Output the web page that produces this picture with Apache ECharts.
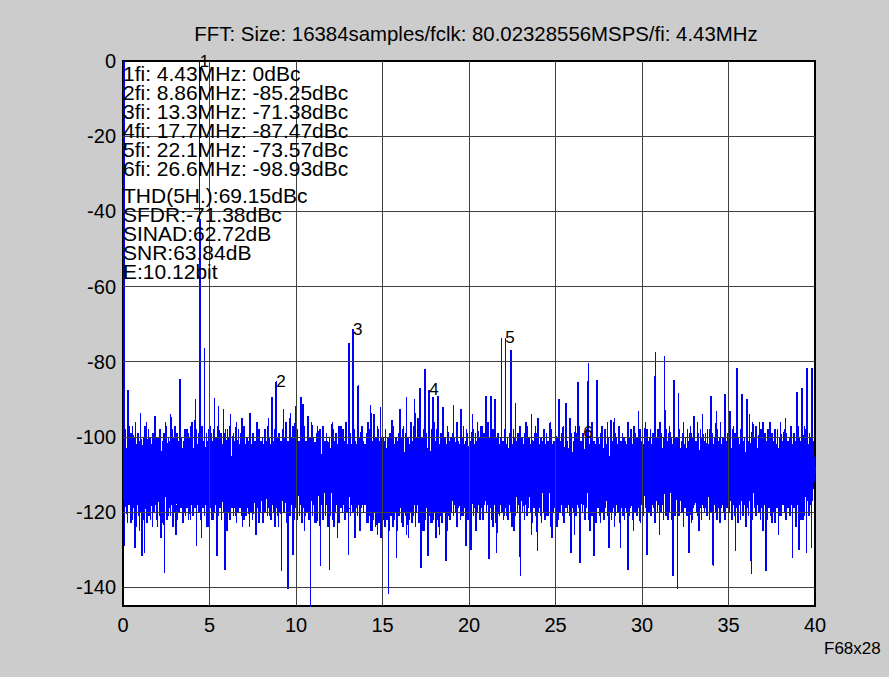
<!DOCTYPE html>
<html><head><meta charset="utf-8">
<script src="https://cdn.jsdelivr.net/npm/echarts@6/dist/echarts.min.js"></script>
<style>html,body{margin:0;padding:0;background:#cccccc}#c{width:889px;height:677px}#c svg path{shape-rendering:crispEdges}</style>
</head><body><div id="c"></div>
<script>
// ---- data ----
// noise floor samples, uniformly spaced over 0..40 MHz
const noiseDb = [
-101,-117,-104,-121,-98,-115,-103,-119,-106,-123,-100,-116,-102,-118,-97,-114,-105,-120,-99,-117,-103,-122,-101,-115,-104,-119,-100,-116,-96,-124,-102,-118,-105,-115,-99,-121,-103,-117,-101,-120,
-99,-120,-103,-115,-105,-118,-100,-122,-102,-116,-97,-119,-104,-114,-101,-123,-106,-117,-98,-121,-103,-116,-100,-119,-105,-115,-102,-124,-99,-117,-104,-120,-101,-116,-96,-118,-103,-122,-100,-115,
-104,-116,-100,-121,-102,-117,-98,-119,-105,-115,-101,-123,-103,-118,-99,-120,-106,-116,-102,-114,-97,-122,-104,-117,-100,-119,-103,-115,-101,-121,-105,-118,-98,-116,-102,-124,-100,-117,-104,-120,
-102,-118,-105,-115,-99,-122,-103,-116,-101,-120,-104,-117,-97,-119,-100,-115,-103,-123,-106,-118,-101,-116,-98,-121,-104,-114,-102,-119,-105,-117,-99,-122,-103,-116,-100,-120,-97,-118,-104,-115,
-100,-121,-103,-117,-106,-119,-101,-115,-98,-123,-104,-118,-102,-116,-99,-120,-105,-114,-100,-122,-103,-117,-97,-119,-101,-115,-104,-121,-102,-118,-106,-116,-99,-124,-103,-117,-101,-119,-98,-116,
-103,-119,-99,-116,-104,-122,-101,-117,-105,-115,-98,-120,-102,-118,-100,-124,-104,-116,-97,-121,-103,-115,-106,-119,-101,-117,-99,-122,-102,-116,-104,-120,-100,-118,-103,-115,-98,-123,-105,-117,
-101,-115,-104,-120,-100,-117,-97,-122,-103,-116,-105,-119,-102,-114,-99,-121,-104,-118,-101,-116,-106,-123,-100,-117,-103,-120,-98,-115,-102,-119,-104,-117,-99,-121,-101,-116,-105,-118,-102,-122,
-98,-118,-102,-121,-105,-116,-100,-119,-103,-115,-101,-124,-104,-117,-96,-120,-102,-116,-105,-122,-99,-118,-103,-115,-101,-121,-104,-117,-100,-119,-106,-116,-102,-123,-98,-117,-103,-120,-101,-115,
-104,-117,-100,-123,-102,-116,-99,-120,-105,-118,-101,-115,-103,-121,-97,-117,-104,-119,-100,-116,-102,-122,-105,-118,-99,-115,-103,-120,-101,-117,-98,-124,-104,-116,-102,-119,-100,-121,-103,-118,
-99,-116,-103,-119,-101,-122,-104,-117,-98,-115,-102,-120,-105,-118,-100,-116,-96,-123,-103,-117,-101,-119,-104,-115,-99,-121,-102,-118,-105,-116,-100,-120,-97,-117,-103,-122,-101,-116,-104,-119,
-102,-120,-98,-117,-104,-115,-101,-121,-103,-118,-99,-116,-105,-123,-100,-119,-102,-115,-97,-118,-104,-121,-101,-116,-103,-120,-106,-117,-99,-122,-102,-115,-100,-119,-104,-117,-98,-121,-103,-116,
-100,-118,-105,-116,-102,-120,-99,-123,-103,-117,-101,-115,-104,-119,-98,-121,-102,-116,-105,-118,-100,-122,-97,-117,-103,-115,-101,-120,-104,-118,-99,-116,-102,-124,-106,-117,-100,-119,-103,-121,
-103,-115,-100,-119,-98,-122,-104,-117,-101,-120,-105,-116,-99,-118,-102,-121,-104,-115,-97,-123,-103,-117,-100,-119,-105,-116,-102,-120,-98,-118,-104,-115,-101,-122,-103,-117,-99,-120,-102,-116,
-101,-119,-104,-116,-99,-121,-102,-118,-106,-115,-100,-120,-103,-117,-98,-124,-101,-116,-104,-119,-102,-121,-99,-115,-105,-118,-100,-122,-103,-116,-97,-119,-104,-117,-101,-120,-102,-115,-105,-118,
-102,-117,-99,-120,-103,-123,-100,-118,-104,-121,-98,-119,-102,-125,-105,-117,-101,-122,-103,-118,-99,-120,-104,-124,-100,-117,-102,-121,-97,-119,-105,-123,-101,-118,-103,-120,-100,-126,-104,-117,
-100,-121,-104,-118,-101,-124,-98,-119,-103,-122,-105,-117,-100,-120,-102,-125,-99,-118,-104,-121,-101,-119,-103,-123,-97,-117,-102,-122,-105,-120,-100,-118,-104,-125,-101,-119,-99,-121,-103,-118,
-103,-119,-100,-122,-105,-118,-98,-124,-102,-120,-104,-117,-99,-121,-101,-126,-103,-119,-100,-118,-105,-122,-102,-120,-98,-117,-104,-123,-101,-119,-103,-121,-97,-118,-102,-124,-100,-120,-104,-117,
-101,-118,-104,-123,-99,-120,-102,-117,-105,-121,-100,-119,-103,-125,-98,-118,-104,-122,-101,-120,-99,-117,-103,-124,-105,-119,-100,-121,-102,-118,-104,-123,-98,-120,-101,-117,-103,-122,-100,-119,
-104,-120,-101,-117,-98,-122,-103,-119,-100,-124,-105,-118,-102,-121,-99,-117,-104,-123,-101,-119,-97,-120,-103,-118,-100,-122,-105,-117,-102,-125,-99,-119,-104,-121,-101,-118,-103,-116,-100,-120,
-102,-117,-99,-121,-104,-118,-100,-116,-103,-120,-98,-123,-105,-117,-101,-119,-102,-115,-104,-122,-99,-118,-103,-116,-100,-121,-97,-117,-102,-119,-105,-115,-101,-120,-104,-118,-99,-122,-103,-116,
-100,-116,-103,-120,-101,-118,-105,-115,-98,-121,-102,-117,-104,-119,-99,-123,-103,-116,-101,-120,-105,-118,-100,-115,-102,-122,-97,-117,-104,-119,-101,-116,-103,-121,-99,-118,-105,-115,-102,-120,
-104,-118,-101,-115,-99,-121,-103,-117,-100,-119,-105,-122,-102,-116,-98,-120,-104,-118,-101,-115,-103,-123,-100,-117,-106,-119,-99,-116,-102,-121,-104,-118,-100,-115,-97,-120,-103,-117,-101,-122,
-101,-121,-98,-117,-104,-119,-102,-115,-100,-122,-103,-118,-105,-116,-99,-120,-101,-117,-104,-124,-102,-115,-98,-119,-103,-121,-100,-117,-105,-116,-101,-120,-99,-118,-104,-115,-102,-123,-100,-117,
-103,-117,-100,-120,-102,-116,-105,-122,-99,-118,-101,-115,-104,-121,-97,-117,-103,-119,-100,-116,-102,-120,-105,-118,-98,-123,-104,-115,-101,-119,-103,-117,-99,-121,-102,-116,-100,-118,-104,-120,
-99,-119,-102,-116,-105,-121,-100,-117,-103,-115,-101,-120,-98,-118,-104,-122,-102,-116,-99,-119,-105,-117,-101,-121,-103,-115,-100,-118,-104,-124,-98,-116,-102,-120,-105,-117,-101,-119,-103,-115,
-102,-115,-104,-119,-100,-122,-103,-117,-98,-120,-101,-116,-105,-118,-99,-121,-103,-115,-100,-123,-104,-117,-102,-119,-97,-116,-101,-120,-103,-118,-105,-115,-100,-121,-102,-117,-99,-119,-104,-116,
-104,-120,-101,-117,-103,-115,-99,-121,-102,-118,-105,-116,-100,-119,-97,-122,-103,-117,-101,-115,-104,-120,-99,-118,-102,-116,-105,-121,-100,-117,-103,-119,-98,-115,-101,-122,-104,-118,-102,-116,
-100,-117,-103,-121,-99,-116,-104,-118,-101,-120,-102,-115,-105,-123,-98,-117,-103,-119,-100,-116,-102,-121,-104,-118,-99,-115,-101,-120,-105,-117,-103,-122,-100,-116,-98,-119,-102,-117,-104,-121,
-103,-118,-100,-115,-105,-120,-102,-117,-98,-122,-104,-116,-101,-119,-103,-115,-99,-121,-105,-118,-100,-116,-102,-120,-104,-117,-97,-123,-103,-115,-101,-119,-105,-117,-99,-121,-102,-116,-100,-118,
-101,-116,-104,-120,-102,-118,-99,-115,-103,-121,-100,-117,-105,-119,-98,-116,-102,-122,-104,-118,-101,-115,-103,-120,-99,-117,-105,-121,-100,-116,-102,-119,-104,-115,-98,-122,-103,-118,-101,-117,
-99,-121,-102,-117,-104,-115,-100,-119,-103,-122,-98,-116,-105,-118,-101,-120,-103,-117,-100,-115,-104,-121,-102,-118,-99,-116,-105,-119,-101,-123,-103,-117,-100,-115,-104,-120,-98,-118,-102,-116,
-104,-117,-101,-120,-99,-118,-103,-116,-105,-122,-100,-115,-102,-119,-98,-121,-104,-117,-101,-116,-103,-120,-99,-118,-105,-115,-100,-122,-102,-117,-104,-119,-97,-116,-103,-121,-101,-118,-100,-115,
-102,-119,-100,-116,-104,-121,-98,-117,-103,-115,-101,-120,-105,-118,-99,-122,-102,-116,-104,-119,-100,-117,-103,-121,-98,-115,-101,-118,-105,-120,-102,-116,-99,-123,-104,-117,-100,-119,-103,-116,
-100,-118,-103,-115,-101,-120,-105,-117,-99,-121,-102,-116,-104,-119,-98,-117,-103,-122,-100,-115,-105,-118,-101,-120,-103,-116,-99,-119,-104,-121,-100,-117,-102,-115,-105,-122,-98,-118,-103,-120,
-103,-116,-99,-121,-102,-118,-104,-115,-100,-120,-105,-117,-98,-122,-103,-116,-101,-119,-104,-117,-99,-121,-102,-115,-105,-118,-100,-120,-103,-116,-97,-122,-104,-117,-101,-119,-102,-115,-99,-121,
-101,-120,-104,-117,-100,-115,-103,-122,-98,-118,-102,-116,-105,-121,-99,-117,-104,-119,-101,-115,-103,-123,-100,-118,-102,-116,-104,-120,-98,-117,-105,-115,-101,-121,-103,-118,-100,-116,-104,-119,
-104,-115,-100,-119,-103,-121,-101,-117,-99,-116,-105,-120,-102,-118,-98,-122,-103,-115,-100,-119,-104,-117,-101,-121,-99,-116,-103,-118,-105,-120,-100,-115,-102,-122,-98,-117,-104,-119,-101,-116,
-102,-118,-105,-116,-99,-120,-103,-117,-101,-122,-98,-115,-104,-119,-100,-117,-102,-121,-105,-116,-99,-118,-103,-120,-101,-115,-104,-123,-100,-117,-102,-119,-98,-116,-103,-121,-105,-118,-100,-115,
-100,-121,-103,-116,-101,-118,-104,-115,-98,-120,-102,-117,-99,-122,-105,-116,-101,-119,-103,-115,-100,-121,-104,-118,-97,-116,-102,-120,-105,-117,-99,-119,-103,-115,-101,-122,-104,-117,-100,-118,
-103,-117,-100,-120,-104,-116,-101,-122,-99,-118,-102,-115,-105,-119,-100,-121,-103,-116,-98,-120,-104,-117,-101,-115,-102,-121,-99,-118,-105,-116,-100,-119,-103,-117,-101,-114,-104,-112,-106,-110
];
// upward spurs (MHz, dB)
const peakFreq = [0.05, 0.29, 1.0, 1.85, 2.76, 3.31, 4.18, 4.72, 5.3, 5.53, 5.82, 6.2, 6.87, 7.35, 8.61, 9.29, 9.67, 9.96, 10.29, 10.4, 10.7,
  13.06, 13.6, 14.32, 14.5, 14.88, 16.0, 16.4, 16.86, 17.18, 17.45, 17.93, 18.2, 18.5, 19.1, 19.55, 20.2, 20.98, 21.27, 21.5, 21.88, 22.43, 22.7,
  23.6, 24.0, 24.7, 25.2, 25.6, 26.3, 26.9, 27.4, 28.2, 28.4, 29.8, 30.77, 31.3, 31.86, 32.1, 33.0, 33.5, 34.0, 34.3, 34.8, 35.1, 35.5, 35.77, 36.06, 36.2,
  36.8, 37.4, 38.3, 38.96, 39.25, 39.54, 39.83];
const peakDb = [0, -87.5, -93.7, -94.5, -94, -84.6, -90, -76.4, -89.7, -91.7, -92.6, -94, -94.9, -93.7, -89.3, -92.6, -93.7, -91.7, -89.5, -91.2, -94.4,
  -75.1, -86.3, -91.5, -94, -92, -92.6, -89.3, -90, -87.1, -82.0, -89.5, -89, -92, -91.5, -92.6, -94, -89, -89, -90, -73.8, -76.9, -91,
  -94, -95, -96, -90, -91, -85.3, -80.4, -85, -95.5, -95, -93, -77.5, -78.6, -85, -88.4, -94.5, -94, -89, -93, -88.5, -93.2, -81.7, -88.5, -90, -94,
  -96, -96, -95, -88, -87, -81.7, -81.7];
// smaller noise peaks above the floor (MHz, dB)
const minorPeakFreq = [0.55, 1.35, 2.1, 2.45, 3.0, 3.7, 4.0, 5.05, 6.05, 6.55, 7.0, 7.75, 8.2, 8.4, 9.45, 10.9, 11.25, 11.6, 12.1, 12.6, 12.9, 13.85,
  14.15, 15.2, 15.55, 16.2, 16.65, 17.05, 18.0, 18.75, 19.3, 19.85, 20.5, 20.75, 21.1, 22.95, 23.3, 23.85, 24.35, 25.0, 25.45, 25.85, 26.15, 27.1,
  27.7, 28.0, 28.7, 29.2, 29.55, 30.2, 30.5, 31.05, 31.6, 32.4, 32.8, 33.2, 33.8, 34.55, 35.3, 36.4, 36.6, 37.0, 37.7, 38.0, 38.6, 39.0, 39.4];
const minorPeakDb = [-97, -96, -98, -96, -97, -98, -96, -97, -98, -96, -97, -96, -98, -95, -97, -96, -97, -98, -96, -97, -96, -97,
  -96, -98, -95.5, -97, -96, -95, -96, -97, -96, -98, -96, -97, -96, -97, -96, -97, -98, -96, -97, -95, -97, -96,
  -97, -96, -97, -96, -97, -96, -98, -96, -97, -96, -97, -96, -98, -96, -97, -96, -97, -96, -98, -96, -97, -96, -97];
// downward noise dips (MHz, dB)
const dipFreq = [0.09, 0.7, 1.1, 1.25, 2.19, 2.39, 4.24, 4.53, 5.43, 5.89, 9.15, 9.54, 9.83, 10.83, 11.41, 11.94, 12.4, 13.04, 13.4, 14.4, 14.9,
  15.34, 15.8, 17.23, 17.63, 18.1, 18.67, 19.82, 20.13, 21.17, 21.6, 22.97, 23.95, 24.8, 25.9, 26.43, 27.24, 28.09, 28.75, 29.19, 30.29,
  31.79, 32.06, 32.72, 34.12, 35.4, 36.32, 37.17, 38.7, 39.09, 39.5, 39.8];
const dipDb = [-129, -129.5, -131.6, -131, -126.9, -136.2, -129, -127, -131.7, -135.5, -135.7, -140.4, -131.4, -147, -134.4, -135.3, -127, -131.3, -127, -125, -127,
  -141.7, -132.2, -134.8, -131.6, -127, -133, -129, -130, -132.6, -131, -137, -130.4, -127, -131, -133.5, -131.6, -129.7, -129.5, -135.3, -131.3,
  -137, -140.4, -131, -134.4, -130.4, -136.6, -135.7, -132.2, -130, -130.8, -129.5];
// smaller dips below the floor (MHz, dB)
const minorDipFreq = [0.45, 0.95, 1.6, 2.0, 2.6, 3.05, 3.5, 3.9, 4.9, 5.2, 6.0, 6.5, 6.9, 7.3, 7.7, 8.1, 8.5, 9.0, 10.1, 10.5, 11.1, 11.7, 12.2, 12.8,
  13.7, 14.1, 14.7, 15.1, 15.6, 16.1, 16.5, 16.9, 17.4, 17.9, 18.3, 18.9, 19.3, 19.6, 20.4, 20.8, 21.4, 22.2, 22.6, 23.2, 23.6, 24.2, 24.5, 25.1,
  25.5, 26.1, 26.7, 27.0, 27.6, 28.0, 28.4, 29.0, 29.5, 29.9, 30.5, 31.0, 31.5, 32.4, 32.9, 33.3, 33.8, 34.5, 35.0, 35.7, 36.0, 36.6, 37.0, 37.5,
  37.9, 38.3, 38.9, 39.3];
const minorDipDb = [-123, -125, -122, -124, -121, -126, -123, -122, -124, -122, -125, -121, -124, -122, -126, -123, -121, -124, -122, -125, -123, -121, -124, -122,
  -125, -123, -126, -122, -124, -123, -127, -122, -125, -123, -126, -122, -124, -121, -125, -122, -124, -121, -125, -122, -126, -123, -121, -124,
  -122, -126, -122, -125, -123, -121, -124, -122, -125, -123, -121, -126, -122, -124, -122, -125, -121, -123, -126, -122, -124, -121, -125, -123,
  -126, -122, -124, -122];
// harmonics
const harmFreq = [4.43, 8.86, 13.3, 17.7, 22.1, 26.6];
const harmDb = [0, -85.25, -71.38, -87.47, -73.57, -98.93];
const harmNames = ['1', '2', '3', '4', '5', '6'];
const statLines = ['THD(5H.):69.15dBc', 'SFDR:-71.38dBc', 'SINAD:62.72dB', 'SNR:63.84dB', 'E:10.12bit'];
const titleText = 'FFT: Size: 16384samples/fclk: 80.02328556MSPS/fi: 4.43MHz';
const cornerText = 'F68x28';
const xGridVals = [5, 10, 15, 20, 25, 30, 35];
const yGridVals = [-20, -40, -60, -80, -100, -120, -140];

// ---- build ----
const fMax = 40;
const noiseStep = fMax / noiseDb.length;
const pts = noiseDb.map((v, i) => [(i + 1) * noiseStep, v]);
const addPairs = (fs, ds) => fs.forEach((f, i) => pts.push([f, ds[i]]));
addPairs(peakFreq, peakDb);
addPairs(minorPeakFreq, minorPeakDb);
addPairs(dipFreq, dipDb);
addPairs(minorDipFreq, minorDipDb);
addPairs(harmFreq, harmDb);
pts.sort((a, b) => a[0] - b[0]);

const harmLines = harmFreq.map((f, i) => (i + 1) + 'fi: ' + f + 'MHz: ' + harmDb[i] + 'dBc');
const FONT = '"Liberation Sans", Arial, sans-serif';

const chart = echarts.init(document.getElementById('c'), null, {renderer: 'svg'});
chart.setOption({
  backgroundColor: '#cccccc',
  animation: false,
  grid: {left: 123, right: 74, top: 61, bottom: 71, show: true, backgroundColor: '#ffffff', borderColor: '#000', borderWidth: 1.5, containLabel: false, outerBoundsMode: 'none'},
  xAxis: {
    type: 'value', min: 0, max: fMax, interval: 5,
    axisLine: {show: true, onZero: false, lineStyle: {color: '#000', width: 2}},
    axisTick: {show: false}, splitLine: {show: false},
    axisLabel: {color: '#000', fontSize: 20, fontFamily: FONT, margin: 9}
  },
  yAxis: {
    type: 'value', min: -145, max: 0, interval: 5,
    axisLine: {show: true, onZero: false, lineStyle: {color: '#000', width: 2}},
    axisTick: {show: false}, splitLine: {show: false},
    axisLabel: {color: '#000', fontSize: 20, fontFamily: FONT, margin: 7,
      formatter: v => (Math.round(v) % 20 === 0 ? String(Math.round(v)) : '')}
  },
  series: [
    {
      type: 'line', data: pts, showSymbol: false, symbol: 'none',
      lineStyle: {color: '#0000ff', width: 1.5}, silent: true, z: 2,
      markLine: {
        silent: true, symbol: 'none', animation: false,
        label: {show: false},
        lineStyle: {color: '#404040', width: 1, type: 'solid'},
        emphasis: {disabled: true},
        data: yGridVals.map(v => ({yAxis: v})).concat(xGridVals.map(v => ({xAxis: v})))
      }
    }
  ]
});

// texts (harmonic numbers are placed through the chart's own axes)
const harmLabelGraphics = harmFreq.map((f, i) => {
  const p = chart.convertToPixel({gridIndex: 0}, [f, harmDb[i]]);
  return {type: 'text', id: 'h' + i, x: p[0], y: p[1], z: 100,
    style: {text: harmNames[i], font: '17px ' + FONT, fill: '#000', align: 'left', verticalAlign: 'middle'}};
});
chart.setOption({
  graphic: [
    {type: 'text', id: 'title', x: 476, y: 34, z: 100, style: {text: titleText, font: '20.4px ' + FONT, fill: '#000', align: 'center', verticalAlign: 'middle'}},
    {type: 'text', id: 'harm', x: 123, y: 64, z: 100, style: {text: harmLines.join('\n'), font: '21px ' + FONT, fill: '#000', lineHeight: 19, align: 'left', verticalAlign: 'top'}},
    {type: 'text', id: 'stats', x: 123, y: 185.5, z: 100, style: {text: statLines.join('\n'), font: '21px ' + FONT, fill: '#000', lineHeight: 19, align: 'left', verticalAlign: 'top'}},
    {type: 'text', id: 'corner', x: 824, y: 648, z: 100, style: {text: cornerText, font: '17px ' + FONT, fill: '#000', align: 'left', verticalAlign: 'middle'}}
  ].concat(harmLabelGraphics)
});
</script></body></html>
